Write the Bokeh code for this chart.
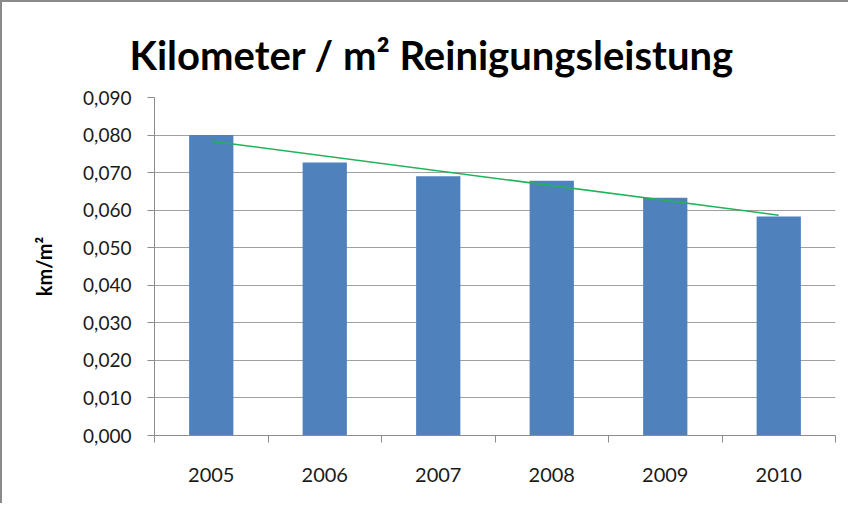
from bokeh.plotting import figure
from bokeh.models import Range1d, FixedTicker, CustomJSTickFormatter, Title
from bokeh.embed import file_html
from bokeh.resources import INLINE
import numpy as np

title_text = "Kilometer / m² Reinigungsleistung"
y_label = "km/m²"
years = ["2005", "2006", "2007", "2008", "2009", "2010"]
values = [0.0800, 0.0727, 0.0690, 0.0678, 0.0633, 0.0583]
y_ticks = [0.00, 0.01, 0.02, 0.03, 0.04, 0.05, 0.06, 0.07, 0.08, 0.09]

FONT = "Lato"
n = len(years)
xs = [i + 0.5 for i in range(n)]

p = figure(width=848, height=503, output_backend="svg", toolbar_location=None,
           x_range=Range1d(0, n), y_range=Range1d(y_ticks[0], y_ticks[-1]),
           min_border_left=152, min_border_right=15, min_border_top=95, min_border_bottom=70)
p.outline_line_color = None
p.background_fill_color = "white"
p.border_fill_color = "white"
p.styles = {"border-top": "2px solid #8a8a8a", "border-left": "2px solid #8a8a8a"}

p.vbar(x=xs, top=values, width=0.39, bottom=0, fill_color="#4F81BD", line_color=None)

coef = np.polyfit(np.arange(n), values, 1)
trend = [coef[0] * i + coef[1] for i in (0, n - 1)]
p.line(x=[xs[0], xs[-1]], y=trend, line_color="#22B35A", line_width=1.5)

# y axis
p.yaxis.ticker = FixedTicker(ticks=y_ticks)
p.yaxis.formatter = CustomJSTickFormatter(code="return tick.toFixed(3).replace('.', ',');")
p.yaxis.axis_label = y_label
p.yaxis.axis_label_text_font = FONT
p.yaxis.axis_label_text_font_style = "bold"
p.yaxis.axis_label_text_font_size = "20px"
p.yaxis.axis_label_text_color = "#000000"
p.yaxis.axis_label_standoff = 24
p.yaxis.major_label_text_font = FONT
p.yaxis.major_label_text_font_size = "19px"
p.yaxis.major_label_text_color = "#1a1a1a"
p.yaxis.major_label_standoff = 16
p.yaxis.major_tick_out = 7
p.yaxis.major_tick_in = 0
p.yaxis.minor_tick_out = 0
p.yaxis.minor_tick_in = 0
p.yaxis.axis_line_color = "#8c8c8c"
p.yaxis.major_tick_line_color = "#8c8c8c"

# x axis: labels at centers, ticks at category boundaries
p.xaxis.ticker = FixedTicker(ticks=xs, minor_ticks=list(range(n + 1)))
p.xaxis.major_label_overrides = {x: y for x, y in zip(xs, years)}
p.xaxis.major_tick_out = 0
p.xaxis.major_tick_in = 0
p.xaxis.minor_tick_out = 7
p.xaxis.minor_tick_in = 0
p.xaxis.minor_tick_line_color = "#8c8c8c"
p.xaxis.axis_line_color = "#8c8c8c"
p.xaxis.major_label_text_font = FONT
p.xaxis.major_label_text_font_size = "20px"
p.xaxis.major_label_text_color = "#1a1a1a"
p.xaxis.major_label_standoff = 25

p.xgrid.grid_line_color = None
p.ygrid.ticker = FixedTicker(ticks=y_ticks)
p.ygrid.grid_line_color = "#a0a0a0"
p.ygrid.grid_line_width = 1

t = Title(text=title_text, align="left", offset=-25, standoff=34, vertical_align="top",
          text_font=FONT, text_font_style="bold", text_font_size="40px", text_color="#000000")
p.add_layout(t, "above")

open("out.html", "w").write(file_html(p, INLINE))
